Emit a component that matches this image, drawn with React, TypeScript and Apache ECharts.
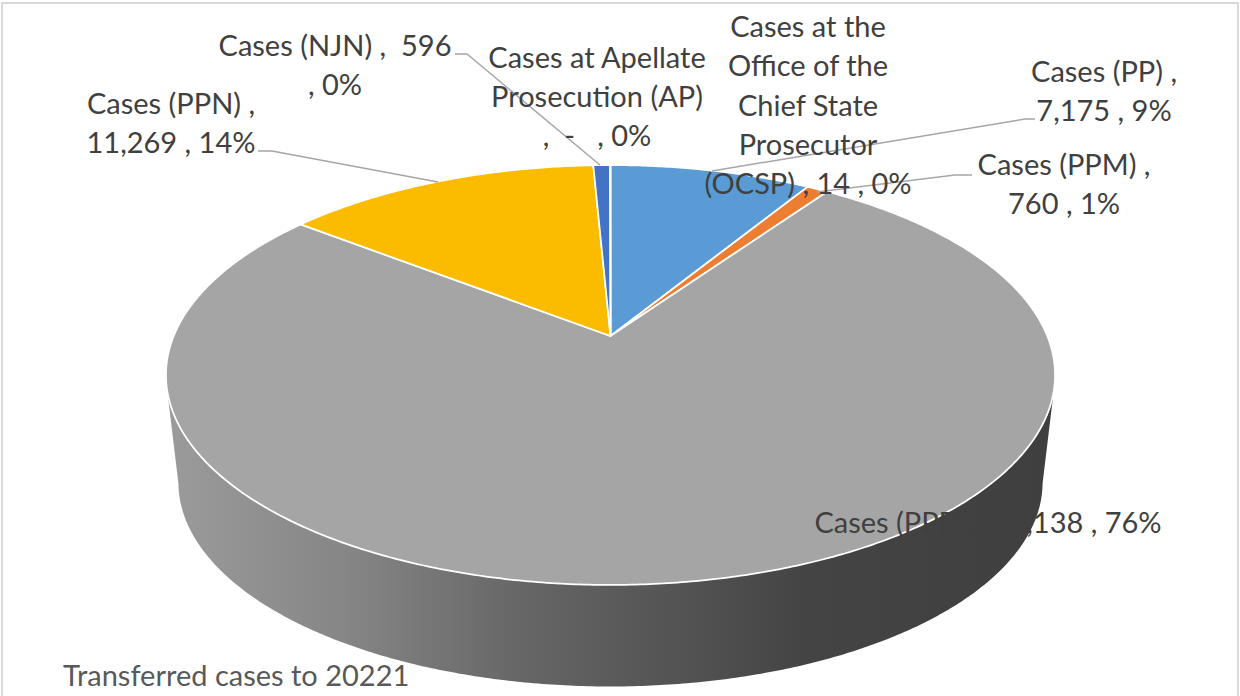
import React, { useEffect, useRef } from "react";
import * as echarts from "echarts";

const categories = ["Cases (PP)", "Cases (PPM)", "Cases (PPP)", "Cases (PPN)", "Cases (NJN)", "Cases at Apellate Prosecution (AP)", "Cases at the Office of the Chief State Prosecutor (OCSP)"];
const caseCounts = [7175, 760, 62138, 11269, 596, 0, 14];
const sliceColors = ["#5B9BD5", "#ED7D31", "#A5A5A5", "#FBBC00", "#4472C4", "#255E91", "#9E480E"];
const chartTitle = "Transferred cases to 20221";

const labelBlocks = [
  { lines: ["Cases at the", "Office of the", "Chief State", "Prosecutor", "(OCSP) , 14 , 0%"], cx: 808, ys: [25.5, 64.5, 104.5, 143.5, 182.5] },
  { lines: ["Cases (PP) ,", "7,175 , 9%"], cx: 1104, ys: [70.5, 109.5] },
  { lines: ["Cases (PPM) ,", "760 , 1%"], cx: 1064, ys: [163.5, 202.5] },
  { lines: ["Cases (PPP) ,  62,138 , 76%"], cx: 988, ys: [521.5] },
  { lines: ["Cases (NJN) ,  596", ", 0%"], cx: 335, ys: [44.5, 83.5] },
  { lines: ["Cases at Apellate", "Prosecution (AP)", ",  -   , 0%"], cx: 597, ys: [56.5, 95.5, 134.5] },
  { lines: ["Cases (PPN) ,", "11,269 , 14%"], cx: 171, ys: [102.5, 141.5] },
];

const leaderLines = [
  [[1035, 119], [1025, 119], [712, 171]],
  [[972, 175], [955, 175], [817, 192]],
  [[455, 54], [467, 54], [600, 165]],
  [[258, 151], [272, 151], [438, 182]],
];

const FONT = "Lato";
const CX = 610.5;
const TOP = { cy: 336, a: 436.8, b: 202.7 };
const SCALE = 0.972;
const BOTTOM = { cy: 444.5, a: 436.8 * SCALE, b: 202.7 * SCALE };
const P = 0.1858;

const deg = Math.PI / 180;
const project = (face: { cy: number; a: number; b: number }, t: number) => {
  const x = Math.sin(t * deg);
  const y = -Math.cos(t * deg);
  const d = 1 - P * y;
  return [CX + (face.a * x) / d, face.cy + (face.b * y) / d];
};

const arcPoints = (face: any, from: number, to: number) => {
  const n = Math.max(2, Math.ceil(Math.abs(to - from) * 2));
  const out: number[][] = [];
  for (let i = 0; i <= n; i++) out.push(project(face, from + ((to - from) * i) / n));
  return out;
};

const total = caseCounts.reduce((s, v) => s + v, 0);
const startAngle = (idx: number) => (caseCounts.slice(0, idx).reduce((s, v) => s + v, 0) / total) * 360;

export default function App() {
  const ref = useRef<HTMLDivElement>(null);
  useEffect(() => {
    document.body.style.margin = "0";
    document.body.style.overflow = "hidden";
    const chart = echarts.init(ref.current!, undefined, { renderer: "svg" });
    const graphics: any[] = [
      { type: "rect", z: 1, shape: { x: 2, y: 3, width: 1236, height: 710 }, style: { fill: "none", stroke: "#D9D9D9", lineWidth: 2 } },
    ];
    leaderLines.forEach((pts) =>
      graphics.push({ type: "polyline", z: 50, shape: { points: pts }, style: { fill: "none", stroke: "#A6A6A6", lineWidth: 1.5 } })
    );
    labelBlocks.forEach((b) =>
      b.lines.forEach((line, i) =>
        graphics.push({
          type: "text", z: 60, x: b.cx, y: b.ys[i],
          style: { text: line, fill: "#404040", font: `29px ${FONT}`, align: "center", verticalAlign: "middle" },
        })
      )
    );
    graphics.push({
      type: "text", z: 60, x: 63, y: 674.5,
      style: { text: chartTitle, fill: "#595959", font: `29px ${FONT}`, align: "left", verticalAlign: "middle" },
    });

    chart.setOption({
      animation: false,
      backgroundColor: "#FFFFFF",
      graphic: { elements: graphics },
      series: [
        {
          type: "custom",
          coordinateSystem: "none",
          silent: true,
          z: 2,
          data: [total],
          renderItem: () => ({
            type: "polygon",
            shape: { points: [...arcPoints(TOP, 105, 255), ...arcPoints(BOTTOM, 259, 101)] },
            style: {
              fill: new echarts.graphic.LinearGradient(0, 0, 1, 0, [
                { offset: 0, color: "#9B9B9B" },
                { offset: 0.2, color: "#868686" },
                { offset: 0.4, color: "#666666" },
                { offset: 0.72, color: "#444444" },
                { offset: 1, color: "#3F3F3F" },
              ]),
            },
          }),
        },
        {
          type: "custom",
          coordinateSystem: "none",
          silent: true,
          z: 3,
          data: categories.map((name, i) => ({ name, value: caseCounts[i] })),
          renderItem: (params: any) => {
            const i = params.dataIndex;
            const from = startAngle(i);
            const to = startAngle(i + 1);
            if (to <= from) return { type: "group", children: [] };
            return {
              type: "polygon",
              shape: { points: [[CX, TOP.cy], ...arcPoints(TOP, from, to)] },
              style: { fill: sliceColors[i], stroke: "#FFFFFF", lineWidth: 1.75, lineJoin: "round" },
            };
          },
        },
      ],
    });
    return () => chart.dispose();
  }, []);
  return <div ref={ref} style={{ position: "absolute", left: 0, top: 0, width: 1240, height: 696 }} />;
}
